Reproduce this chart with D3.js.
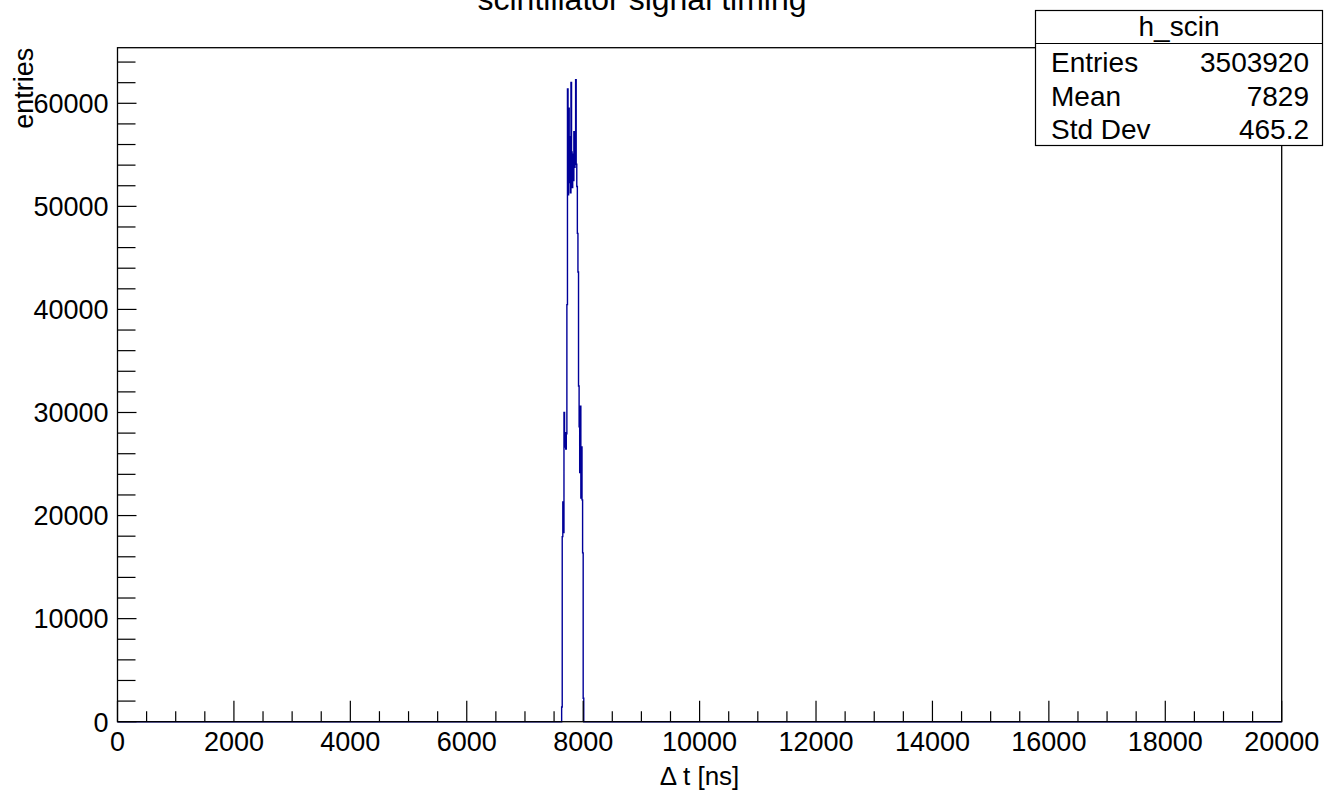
<!DOCTYPE html>
<html>
<head>
<meta charset="utf-8">
<script src="https://cdn.jsdelivr.net/npm/d3@7"></script>
<style>
  html, body { margin: 0; padding: 0; background: #fff; }
  svg { display: block; }
  text { font-family: "Liberation Sans", Arial, Helvetica, sans-serif; fill: #000; }
</style>
</head>
<body>
<svg id="chart" width="1326" height="795"></svg>
<script>
// ---- data ----
const title = "scintillator signal timing";
const xTitle = "\u0394 t [ns]";
const yTitle = "entries";
const xDomain = [0, 20000];
const binWidth = 10;              // ns
const peakStart = 7630;           // low edge of first non-empty bin (ns)
const peakCounts = [
  1430, 17960, 21320, 18360, 30000, 26650, 28030, 26450, 27930, 40470,
  61390, 51130, 59520, 52310, 56750, 51320, 62030, 55270, 51820, 55070,
  52510, 57250, 53790, 55070, 62280, 54090, 51920, 47380, 43630, 32570,
  28620, 24180, 30600, 21710, 26650, 21520, 16380, 2270
];
const xMajorTicks = [0, 2000, 4000, 6000, 8000, 10000, 12000, 14000, 16000, 18000, 20000];
const yMajorTicks = [0, 10000, 20000, 30000, 40000, 50000, 60000];
const statsName = "h_scin";
const statsLabels = ["Entries", "Mean", "Std Dev"];
const statsValues = ["3503920", "7829", "465.2"];

// ---- layout ----
const frame = { left: 117.5, right: 1281.7, top: 47.7, bottom: 721.7 };
const histColor = "#000099";

const svg = d3.select("#chart");

const x = d3.scaleLinear().domain(xDomain).range([frame.left, frame.right]);
const yMax = 1.05 * d3.max(peakCounts);
const y = d3.scaleLinear().domain([0, yMax]).range([frame.bottom, frame.top]);

// histogram step points
const pts = [{ t: xDomain[0], c: 0 }];
peakCounts.forEach((c, i) => pts.push({ t: peakStart + i * binWidth, c }));
pts.push({ t: peakStart + peakCounts.length * binWidth, c: 0 });
pts.push({ t: xDomain[1], c: 0 });

const line = d3.line()
  .x(d => x(d.t))
  .y(d => y(d.c))
  .curve(d3.curveStepAfter);

svg.append("path")
  .datum(pts)
  .attr("d", line)
  .attr("fill", "none")
  .attr("stroke", histColor)
  .attr("stroke-width", 1.4);

// frame
svg.append("rect")
  .attr("x", frame.left).attr("y", frame.top)
  .attr("width", frame.right - frame.left)
  .attr("height", frame.bottom - frame.top)
  .attr("fill", "none").attr("stroke", "#000").attr("stroke-width", 1.3);

// x axis ticks
const xMinor = d3.range(xDomain[0], xDomain[1] + 1, 500);
const xAxisG = svg.append("g");
xAxisG.selectAll("line").data(xMinor).enter().append("line")
  .attr("x1", d => x(d)).attr("x2", d => x(d))
  .attr("y1", frame.bottom)
  .attr("y2", d => frame.bottom - (xMajorTicks.includes(d) ? 21 : 10.5))
  .attr("stroke", "#000").attr("stroke-width", 1.2);
xAxisG.selectAll("text").data(xMajorTicks).enter().append("text")
  .attr("x", d => x(d)).attr("y", 751)
  .attr("text-anchor", "middle")
  .attr("font-size", 27)
  .text(d => d3.format("d")(d));

// y axis ticks
const yMinor = d3.range(0, yMax, 2000);
const yAxisG = svg.append("g");
yAxisG.selectAll("line").data(yMinor).enter().append("line")
  .attr("x1", frame.left)
  .attr("x2", d => frame.left + (yMajorTicks.includes(d) ? 19 : 18))
  .attr("y1", d => y(d)).attr("y2", d => y(d))
  .attr("stroke", "#000").attr("stroke-width", 1.2);
yAxisG.selectAll("text").data(yMajorTicks).enter().append("text")
  .attr("x", 108.5).attr("y", d => y(d) + 9.8)
  .attr("text-anchor", "end")
  .attr("font-size", 27)
  .text(d => d3.format("d")(d));

// axis titles
svg.append("text")
  .attr("x", (frame.left + frame.right) / 2).attr("y", 785)
  .attr("text-anchor", "middle")
  .attr("font-size", 26)
  .text(xTitle);
svg.append("text")
  .attr("transform", `translate(33,${frame.top}) rotate(-90)`)
  .attr("text-anchor", "end")
  .attr("font-size", 27)
  .text(yTitle);

// title (cut off at the top edge, as in the reference)
svg.append("text")
  .attr("x", 642).attr("y", 9.5)
  .attr("text-anchor", "middle")
  .attr("font-size", 32)
  .text(title);

// stats box
const sb = { left: 1035.5, right: 1322.5, top: 10.5, sep: 43.5, bottom: 145.5 };
svg.append("rect")
  .attr("x", sb.left).attr("y", sb.top)
  .attr("width", sb.right - sb.left).attr("height", sb.bottom - sb.top)
  .attr("fill", "#fff").attr("stroke", "#000").attr("stroke-width", 1.2);
svg.append("line")
  .attr("x1", sb.left).attr("x2", sb.right)
  .attr("y1", sb.sep).attr("y2", sb.sep)
  .attr("stroke", "#000").attr("stroke-width", 1.2);
svg.append("text")
  .attr("x", (sb.left + sb.right) / 2).attr("y", 36)
  .attr("text-anchor", "middle").attr("font-size", 28)
  .text(statsName);
const rowY = [72, 106, 139];
svg.selectAll("text.slab").data(statsLabels).enter().append("text")
  .attr("class", "slab")
  .attr("x", 1051).attr("y", (d, i) => rowY[i])
  .attr("font-size", 28)
  .text(d => d);
svg.selectAll("text.sval").data(statsValues).enter().append("text")
  .attr("class", "sval")
  .attr("x", 1309).attr("y", (d, i) => rowY[i])
  .attr("text-anchor", "end")
  .attr("font-size", 28)
  .text(d => d);
</script>
</body>
</html>
